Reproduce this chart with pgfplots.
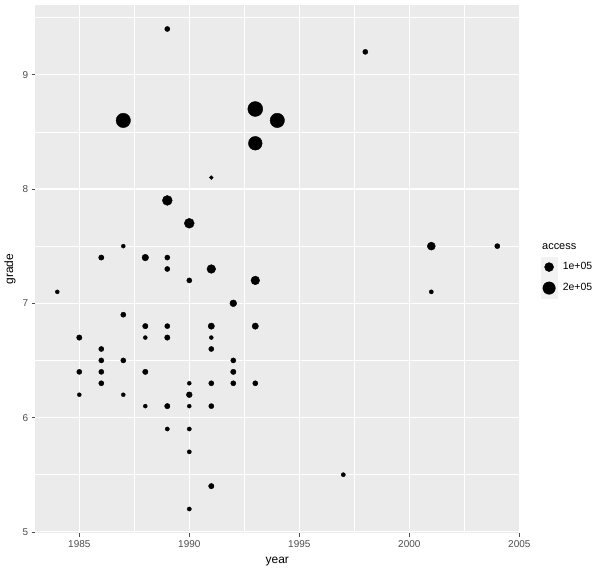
\documentclass[border=0pt]{standalone}
\usepackage{pgfplots}
\pgfplotsset{compat=1.18}
\usepackage{pgfplotstable}
\usepackage{fontspec}
\setmainfont{Liberation Sans}

\definecolor{panelbg}{HTML}{EBEBEB}
\definecolor{tickgrey}{HTML}{4D4D4D}
\definecolor{keybg}{HTML}{F2F2F2}

% year, grade, access (number of accesses)
\pgfplotstableread{
year grade access
1984 7.1 14000
1985 6.7 31000
1985 6.4 27000
1985 6.2 14000
1986 7.4 29000
1986 6.6 27000
1986 6.5 27000
1986 6.4 27000
1986 6.3 27000
1987 8.6 282000
1987 7.5 14000
1987 6.9 27000
1987 6.5 27000
1987 6.2 14000
1988 7.4 50000
1988 6.8 31000
1988 6.7 14000
1988 6.4 31000
1988 6.1 14000
1989 9.4 27000
1989 7.9 125000
1989 7.4 27000
1989 7.3 27000
1989 6.8 27000
1989 6.7 31000
1989 6.1 31000
1989 5.9 16000
1990 7.7 125000
1990 7.2 27000
1990 6.3 14000
1990 6.2 37000
1990 6.1 14000
1990 5.9 16000
1990 5.7 16000
1990 5.2 16000
1991 8.1 13000
1991 7.3 93000
1991 6.8 45000
1991 6.7 14000
1991 6.6 27000
1991 6.3 27000
1991 6.1 27000
1991 5.4 31000
1992 7.0 53000
1992 6.5 27000
1992 6.4 31000
1992 6.3 27000
1993 8.7 306000
1993 8.4 254000
1993 7.2 93000
1993 6.8 45000
1993 6.3 27000
1994 8.6 282000
1997 5.5 16000
1998 9.2 27000
2001 7.5 78000
2001 7.1 16000
2004 7.5 27000
}\bubbles

\begin{document}
\begin{tikzpicture}
\path[use as bounding box, fill=white] (0,0) rectangle (600bp,571bp);
\begin{axis}[
  at={(35.3bp,38bp)}, anchor=south west,
  scale only axis, width=484bp, height=528bp,
  xmin=1983, xmax=2005, ymin=4.99, ymax=9.61,
  clip=false,
  axis background/.style={fill=panelbg},
  axis line style={draw=none},
  xtick={1985,1990,...,2005}, ytick={5,6,...,9},
  minor xtick={1987.5,1992.5,1997.5,2002.5},
  minor ytick={5.5,6.5,7.5,8.5,9.5},
  grid=both,
  major grid style={white, line width=1.1bp},
  minor grid style={white, line width=0.55bp},
  tick align=outside, tick pos=left,
  major tick length=3.6bp, minor tick length=0pt,
  tick style={tickgrey, line width=0.55bp},
  /pgf/number format/assume math mode=true,
  x tick label style={/pgf/number format/1000 sep={}},
  ticklabel style={font=\fontsize{10}{12}\selectfont, text=tickgrey},
  xlabel={year}, ylabel={grade},
  label style={font=\fontsize{12}{14}\selectfont},
  x label style={at={(axis description cs:0.5,-0.0549)}, anchor=center},
  y label style={at={(axis description cs:-0.0523,0.5)}, anchor=center},
  legend style={at={(axis description cs:1.0442,0.5239)}, anchor=north west,
    draw=none, fill=none, inner sep=0pt, row sep=0pt, column sep=5.5bp,
    font=\fontsize{10.5}{12}\selectfont, nodes={inner sep=0pt}},
  legend cell align=left,
]
\addplot[forget plot, scatter, only marks, mark=*,
  point meta=\thisrow{access}, point meta min=0, point meta max=400000,
  scatter/use mapped color={draw=black, fill=black},
  scatter/@pre marker code/.append style={/tikz/mark size={0.5+4.0*sqrt(\pgfplotspointmetatransformed/250)}}]
  table[x=year, y=grade] {\bubbles};

\addlegendimage{legend image code/.code={
  \fill[keybg] (0bp,-10.3bp) rectangle (16bp,10.3bp);
  \fill[black] (8bp,0bp) circle (4.5bp);}}
\addlegendentry{1e+05}
\addlegendimage{legend image code/.code={
  \fill[keybg] (0bp,-10.3bp) rectangle (16bp,10.3bp);
  \fill[black] (8bp,0bp) circle (6.24bp);}}
\addlegendentry{2e+05}

\node[anchor=west, font=\fontsize{11}{13}\selectfont] at (axis description cs:1.0400,0.5417) {access};
\end{axis}
\end{tikzpicture}
\end{document}
